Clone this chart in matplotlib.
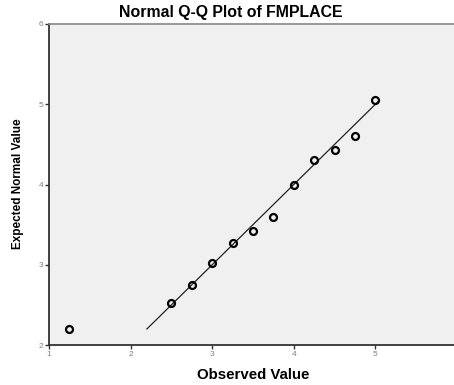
import matplotlib
matplotlib.use("Agg")
import matplotlib.pyplot as plt
from matplotlib import ticker

# observed vs expected normal values for FMPLACE
observed = [1.25, 2.5, 2.75, 3.0, 3.25, 3.5, 3.75, 4.0, 4.25, 4.5, 4.75, 5.0]
expected = [2.2, 2.52, 2.75, 3.02, 3.27, 3.42, 3.6, 3.99, 4.3, 4.43, 4.6, 5.05]
ref_line = [2.2, 5.05]
x_ticks = [1, 2, 3, 4, 5, 6]
y_ticks = [2, 3, 4, 5, 6]

plt.rcParams['font.family'] = ['Liberation Sans', 'DejaVu Sans']

fig = plt.figure(figsize=(4.54, 3.85), dpi=100)
ax = fig.add_axes([49/454, 1-345/385, 408/454, 321/385])
ax.set_facecolor('#f0f0f0')

ax.plot(ref_line, ref_line, color='#222222', lw=0.9, zorder=2)
ax.plot(observed, expected, 'o', ms=5, mfc='none', mec='black', mew=1.6, zorder=3)

ax.set_xlim(1, 6)
ax.set_ylim(2, 6)
ax.xaxis.set_major_locator(ticker.FixedLocator(x_ticks))
ax.yaxis.set_major_locator(ticker.FixedLocator(y_ticks))
ax.tick_params(direction='out', length=3, width=1, colors='#333333',
               labelsize=6, labelcolor='#808080', pad=1)

for s in ['left', 'bottom']:
    ax.spines[s].set_color('#333333')
    ax.spines[s].set_linewidth(1.3)
ax.spines['top'].set_color('#888888')
ax.spines['top'].set_linewidth(1.2)
ax.spines['right'].set_visible(False)

fig.text(231/454, 1-12/385, 'Normal Q-Q Plot of FMPLACE', ha='center', va='center',
         fontsize=11.4, fontweight='bold')
fig.text(253/454, 1-375/385, 'Observed Value', ha='center', va='center',
         fontsize=10.8, fontweight='bold')
fig.text(18/454, 1-184/385, 'Expected Normal Value', ha='center', va='center',
         rotation=90, fontsize=8.5, fontweight='bold',
         family=['Liberation Sans Narrow', 'Liberation Sans'])

fig.savefig('out.png', dpi=100)
